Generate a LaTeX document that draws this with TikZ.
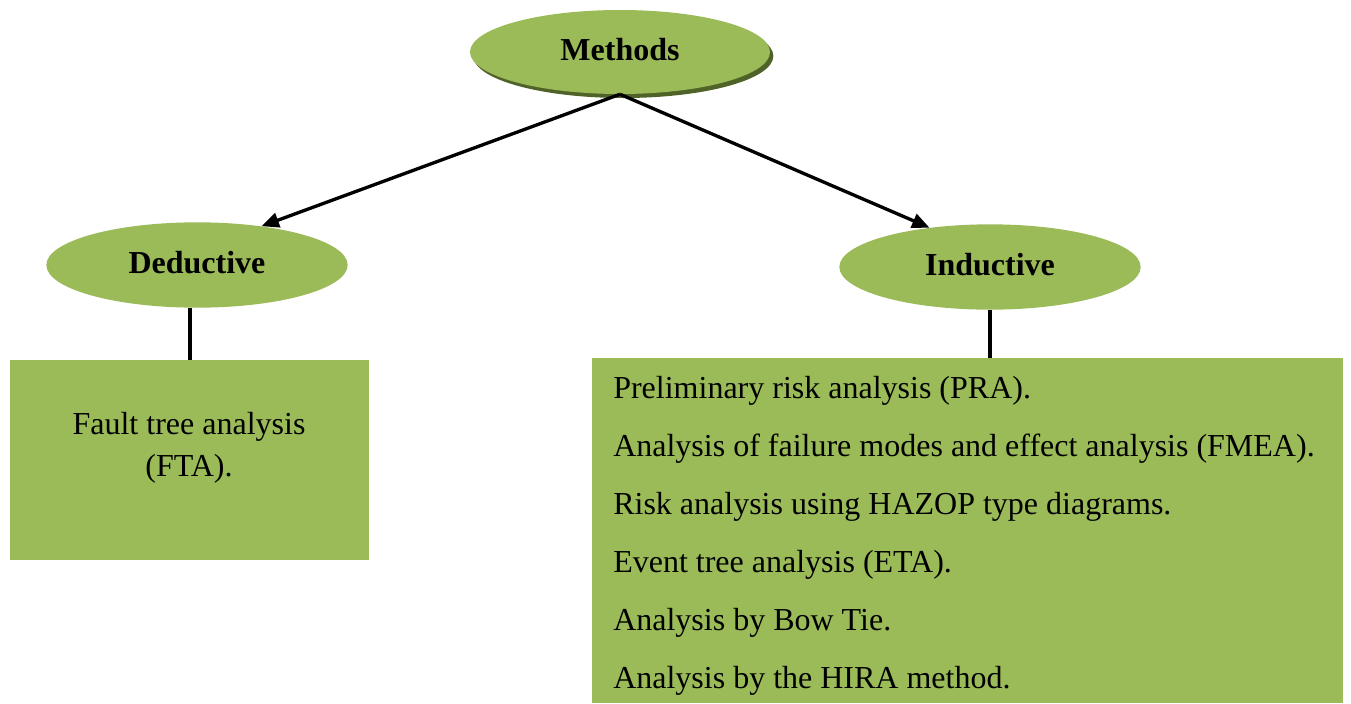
\documentclass[tikz,border=0pt]{standalone}
\usepackage{fontspec}
\setmainfont{Liberation Serif}
\usetikzlibrary{arrows.meta,shadows,shapes.geometric}
\definecolor{boxgreen}{HTML}{9BBB59}
\definecolor{shadegreen}{HTML}{4F6228}

\begin{document}
\begin{tikzpicture}[x=0.75pt, y=-0.75pt,
    method/.style ={ellipse, fill=boxgreen, inner sep=0pt, minimum width=226pt, minimum height=64pt, text depth=4pt, font=\fontsize{24}{28}\selectfont\bfseries},
    listing/.style ={rectangle, fill=boxgreen, inner sep=0pt},
    entry/.style ={inner sep=0pt, font=\fontsize{24}{43.5}\selectfont},
    link/.style ={line width=3pt},
    arrowline/.style ={line width=2.5pt, -{Triangle[length=13pt, width=11pt]}}]
   \useasboundingbox (0,0) rectangle (1351,703);
   % top node
   \node[method, minimum width=225pt, minimum height=63pt, drop shadow={shadow xshift=2.5pt, shadow yshift=-3pt, fill=shadegreen, opacity=1}] (meth) at (620,52) {Methods};
   % the two families
   \node[method] (ded) at (197,265) {Deductive};
   \node[method] (ind) at (990,267) {Inductive};
   % boxes
   \node[listing, minimum width=269pt, minimum height=150pt] (fta) at (189.5,460) {};
   \node[entry, align=center, anchor=north, font=\fontsize{24}{31.5}\selectfont] (ftatext) at (189,412) {Fault tree analysis\\(FTA).};
   \node[listing, minimum width=563pt, minimum height=259pt] (indbox) at (967.5,530.5) {};
   \node[entry, align=left, anchor=north west] (indlist) at (613,376) {Preliminary risk analysis (PRA).\\Analysis of failure modes and effect analysis (FMEA).\\Risk analysis using HAZOP type diagrams.\\Event tree analysis (ETA).\\Analysis by Bow Tie.\\Analysis by the HIRA method.};
   \draw[arrowline] (meth.south) to (ded.31);
   \draw[arrowline] (meth.south) to (ind.147);
   \draw[link] (fta.north |- ded.south) to (fta.north);
   \draw[link] (ind.south) to (ind.south |- indbox.north);
 \end{tikzpicture}
\end{document}
